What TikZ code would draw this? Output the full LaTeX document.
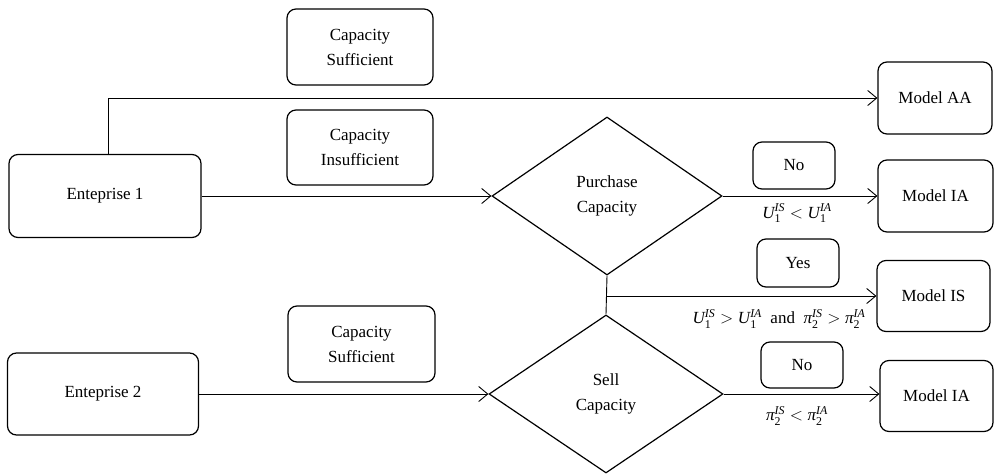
\documentclass[tikz,border=0pt]{standalone}
\usepackage{amsmath}
\usepackage{fontspec}
\setmainfont{Liberation Serif}
\usetikzlibrary{shapes.geometric,arrows.meta}
\newcommand{\vv}[3]{\text{\itshape #1}_{\text{#2}}^{\text{\itshape #3}}}
\begin{document}
\begin{tikzpicture}[x=1pt,y=-1pt,
  box/.style={draw,line width=1.2pt,rounded corners=9pt,align=center,inner sep=0pt,
    font=\fontsize{17}{25}\selectfont},
  dia/.style={draw,line width=1.2pt,diamond,align=center,inner sep=0pt,
    font=\fontsize{17}{25}\selectfont},
  lab/.style={inner sep=0pt,font=\fontsize{17}{18}\selectfont},
  conn/.style={line width=0.9pt,-{Straight Barb[length=9pt,width=15pt,line width=0.9pt]}},
  plain/.style={line width=0.9pt}]
\useasboundingbox (0,0) rectangle (994,474);
% left column
\node[box,minimum width=192pt,minimum height=83pt] (e1) at (105,196) {Enteprise 1};
\node[box,minimum width=191pt,minimum height=82pt] (e2) at (103,394) {Enteprise 2};
% condition boxes
\node[box,minimum width=146pt,minimum height=76pt] (cs1) at (360,47) {Capacity\\Sufficient};
\node[box,minimum width=146pt,minimum height=75pt] (ci) at (360,147.5) {Capacity\\Insufficient};
\node[box,minimum width=147pt,minimum height=76pt] (cs2) at (361.5,344) {Capacity\\Sufficient};
% diamonds
\node[dia,minimum width=230pt,minimum height=158pt] (pc) at (607,196) {Purchase\\Capacity};
\node[dia,minimum width=234pt,minimum height=158pt] (sc) at (606,394) {Sell\\Capacity};
% answer boxes
\node[box,minimum width=82pt,minimum height=47pt] (no1) at (794,165.5) {No};
\node[box,minimum width=82pt,minimum height=48pt] (yes) at (798,263) {Yes};
\node[box,minimum width=82pt,minimum height=46pt] (no2) at (802,365) {No};
% models
\node[box,minimum width=114pt,minimum height=72pt] (aa) at (935,98) {Model AA};
\node[box,minimum width=115pt,minimum height=72pt] (ia1) at (935.5,196) {Model IA};
\node[box,minimum width=113pt,minimum height=71pt] (is) at (933.5,296) {Model IS};
\node[box,minimum width=113pt,minimum height=71pt] (ia2) at (936.5,396) {Model IA};
% labels
\node[lab] (l1) at (797,213) {$\vv{U}{1}{IS} < \vv{U}{1}{IA}$};
\node[lab] (l2) at (779,319) {$\vv{U}{1}{IS} > \vv{U}{1}{IA}$\ \ and\ \ $\vv{π}{2}{IS} > \vv{π}{2}{IA}$};
\node[lab] (l3) at (797,416) {$\vv{π}{2}{IS} < \vv{π}{2}{IA}$};
% connectors
\coordinate (up) at ([xshift=3pt]e1.north);
\draw[conn] (up) |- (aa.west);
\draw[conn] (e1.east) -- (e1.east -| pc.west);
\draw[conn] (e2.east) -- (e2.east -| sc.west);
\draw[conn] (pc.east) -- (pc.east -| ia1.west);
\draw[conn] (sc.east) -- (sc.east -| ia2.west);
\draw[plain] (pc.south) -- (sc.north);
\coordinate (br) at (607,296);
\draw[conn] (br) -- (br -| is.west);
\end{tikzpicture}
\end{document}
